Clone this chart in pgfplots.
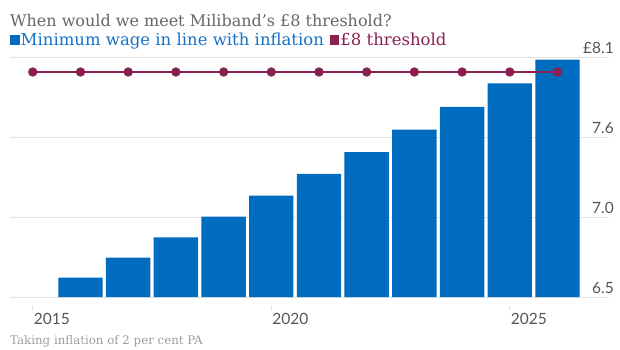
\documentclass[border=0pt]{standalone}
\usepackage{fontspec}
\setmainfont{DejaVu Serif}
\newfontfamily\tickfont{Lato}
\usepackage{pgfplots}
\pgfplotsset{compat=1.18}
\definecolor{barblue}{HTML}{006CBF}
\definecolor{legblue}{HTML}{1572C8}
\definecolor{maroon}{HTML}{8A2050}
\definecolor{titlegray}{HTML}{666666}
\definecolor{capgray}{HTML}{9E9E9E}
\definecolor{gridgray}{HTML}{E3E3E3}
\definecolor{tickgray}{HTML}{555555}
\begin{document}
\begin{tikzpicture}[x=1pt,y=1pt]
\path[use as bounding box] (0,0) rectangle (620,349);
\begin{axis}[
  at={(10pt,52pt)}, anchor=south west,
  scale only axis, width=599pt, height=240pt,
  xmin=2014.522, xmax=2027.08, ymin=6.5, ymax=8.1,
  axis line style={draw=none},
  ytick={6.5,7.033333,7.566667,8.1},
  yticklabels={6.5,7.0,7.6,£8.1},
  yticklabel pos=right,
  ymajorgrids,
  major grid style={color=gridgray, line width=0.9pt},
  ytick style={draw=none},
  xtick={2015,2020,2025}, xticklabels={2015,2020,2025},
  xtick pos=bottom, tick align=outside,
  major tick length=5pt,
  xtick style={draw=gridgray, line width=0.8pt, yshift=-8.7pt},
  ticklabel style={font=\tickfont\fontsize{15.5}{15.5}\selectfont, text=tickgray},
  xticklabel style={anchor=north west, inner sep=0pt, xshift=1pt, yshift=-11pt},
  yticklabel style={anchor=south east, inner sep=0pt, yshift=3pt},
]
\addplot[ybar, bar width=44.4pt, fill=barblue, draw=none] coordinates {
  (2016,6.630) (2017,6.7626) (2018,6.8979) (2019,7.0358) (2020,7.1766)
  (2021,7.3201) (2022,7.4665) (2023,7.6158) (2024,7.7681) (2025,7.9235)
  (2026,8.0820)};
\addplot[color=maroon, line width=2.2pt, mark=*, mark size=3.5pt] coordinates {
  (2015,8) (2016,8) (2017,8) (2018,8) (2019,8) (2020,8)
  (2021,8) (2022,8) (2023,8) (2024,8) (2025,8) (2026,8)};
\end{axis}
\node[anchor=base west, inner sep=0pt, text=titlegray, font=\fontsize{16}{16}\selectfont] at (10,322.3) {When would we meet Miliband's £8 threshold?};
\node[anchor=base west, inner sep=0pt, font=\fontsize{16.5}{16.5}\selectfont] at (10,304) {{\color{barblue}\rule{9.5pt}{9.5pt}}\kern1pt{\color{legblue}Minimum wage in line with inflation}\kern6pt{\color{maroon}\rule{9.5pt}{9.5pt}}\kern1pt{\color{maroon}£8 threshold}};
\node[anchor=base west, inner sep=0pt, text=capgray, font=\fontsize{11.8}{11.8}\selectfont] at (10,4.7) {Taking inflation of 2 per cent PA};
\end{tikzpicture}
\end{document}
